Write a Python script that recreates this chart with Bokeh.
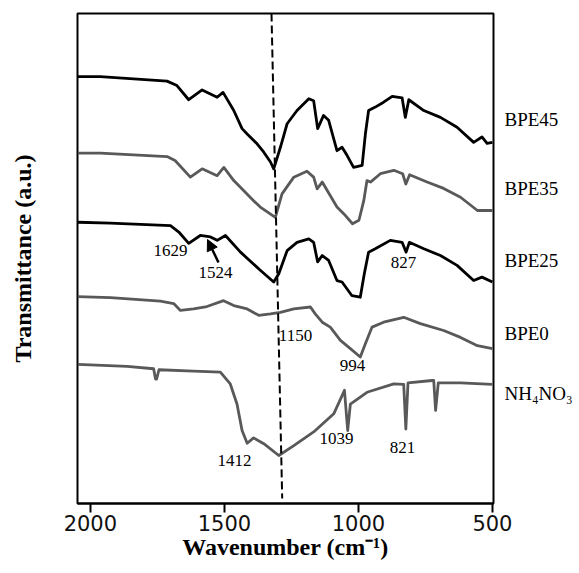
from bokeh.plotting import figure
from bokeh.models import Range1d, FixedTicker, Label, Arrow, NormalHead, LinearAxis
from bokeh.embed import file_html
from bokeh.resources import INLINE

# ---------------- data (wavenumber cm-1, transmittance a.u. with offsets) ----------------
wn_bpe45 = [2047, 1963, 1714, 1677, 1633, 1583, 1527, 1505, 1465, 1434, 1415, 1378, 1353, 1328,
            1316, 1291, 1266, 1229, 1185, 1167, 1152, 1130, 1111, 1080, 1061, 1042, 1018, 986,
            974, 962, 937, 906, 874, 837, 825, 812, 756, 694, 632, 570, 539, 520, 500]
t_bpe45 = [87.1, 87.1, 86.2, 85.3, 82.4, 84.4, 82.9, 83.9, 80.2, 76.5, 75.4, 73.4, 71.7, 69.7,
           68.3, 72.7, 77.5, 80.2, 82.6, 82.2, 76.5, 79.2, 78.2, 72.0, 72.7, 71.0, 68.6, 69.0,
           75.4, 80.2, 80.9, 81.9, 83.1, 82.8, 78.8, 82.4, 80.2, 78.8, 76.8, 73.7, 74.8, 73.5, 73.7]

wn_bpe35 = [2047, 1963, 1714, 1684, 1627, 1583, 1527, 1502, 1465, 1391, 1366, 1310, 1285, 1241,
            1192, 1167, 1154, 1135, 1080, 1054, 1022, 998, 980, 968, 955, 918, 868, 835, 823,
            809, 744, 682, 619, 556, 500]
t_bpe35 = [71.5, 71.5, 70.8, 70.0, 66.6, 68.3, 66.9, 68.6, 65.9, 61.8, 60.5, 58.4, 63.2, 66.6,
           67.8, 66.6, 64.2, 65.6, 60.5, 59.1, 57.1, 57.8, 61.8, 65.9, 65.6, 67.3, 68.0, 67.3, 65.2,
           67.1, 65.6, 64.3, 62.5, 59.8, 59.8]

wn_bpe25 = [2047, 1925, 1701, 1670, 1633, 1590, 1552, 1527, 1496, 1440, 1366, 1316, 1297, 1266,
            1229, 1185, 1167, 1152, 1135, 1111, 1080, 1061, 1024, 993, 978, 962, 937, 881, 837,
            822, 810, 756, 694, 632, 570, 539, 500]
t_bpe25 = [57.4, 57.2, 56.7, 55.4, 53.1, 54.7, 54.4, 53.7, 54.7, 51.3, 47.6, 45.2, 46.9, 51.6,
           53.3, 54.0, 53.3, 49.3, 50.6, 49.6, 45.5, 45.2, 42.4, 42.1, 46.9, 51.3, 52.0, 53.7, 53.3,
           51.3, 53.3, 52.0, 50.6, 48.6, 45.5, 46.2, 45.2]

wn_bpe0 = [2047, 1925, 1739, 1689, 1664, 1615, 1565, 1503, 1465, 1415, 1372, 1328, 1291, 1241,
           1179, 1161, 1135, 1105, 1067, 1030, 993, 974, 949, 906, 831, 769, 682, 619, 556, 500]
t_bpe0 = [42.2, 42.0, 41.3, 40.8, 39.4, 39.7, 40.2, 41.4, 40.4, 39.7, 38.4, 38.7, 39.0, 39.7,
          40.1, 38.7, 37.0, 36.0, 33.3, 31.6, 29.9, 32.6, 36.0, 37.0, 38.0, 36.7, 35.3, 33.9, 32.2, 31.6]

wn_nh4no3 = [2047, 1863, 1764, 1757, 1753, 1744, 1615, 1515, 1478, 1453, 1434, 1415, 1391, 1353,
             1297, 1241, 1167, 1092, 1052, 1040, 1030, 968, 868, 831, 823, 815, 725, 719, 712,
             702, 619, 500]
t_nh4no3 = [28.4, 28.0, 27.5, 25.4, 25.4, 27.3, 27.0, 26.8, 24.4, 20.3, 14.9, 12.3, 13.4, 12.2,
            9.8, 11.8, 14.6, 18.3, 23.1, 14.9, 20.3, 22.7, 24.4, 24.3, 15.2, 24.6, 25.1, 25.1, 19.0,
            24.6, 24.6, 24.3]

series_names = ["BPE45", "BPE35", "BPE25", "BPE0", "NH\u2084NO\u2083"]
series_label_y = [78.4, 64.3, 49.6, 34.7, 22.4]
peak_labels = ["1629", "1524", "827", "1150", "994", "1412", "1039", "821"]
x_ticks = [2000, 1500, 1000, 500]

# ---------------- layout helpers (page pixel -> data, for text placement only) ----------------
X0, X1 = 2048.0, 496.0
FL, FR, FT, FB = 77, 493, 13, 503


def wx(px):
    return X0 + (px - FL) / (FR - FL) * (X1 - X0)


def wy(py):
    return 100.0 * (FB - py) / (FB - FT)


SERIF = "Liberation Serif"

p = figure(width=579, height=573, output_backend="svg", toolbar_location=None,
           x_range=Range1d(X0, X1), y_range=Range1d(0, 100),
           min_border_left=FL, min_border_right=579 - FR, min_border_top=FT,
           min_border_bottom=573 - FB)
p.background_fill_color = "white"
p.border_fill_color = "white"
p.outline_line_color = "black"
p.outline_line_width = 2
p.xgrid.visible = False
p.ygrid.visible = False

# bottom axis
xa = p.xaxis[0]
xa.ticker = FixedTicker(ticks=x_ticks)
xa.major_tick_out = 9
xa.major_tick_in = 0
xa.minor_tick_line_color = None
xa.major_tick_line_width = 2
xa.axis_line_width = 2
xa.major_label_standoff = 2
xa.major_label_text_font = "DejaVu Sans"
xa.major_label_text_font_size = "21px"
xa.major_label_text_color = "#111111"
xa.axis_label = "Wavenumber (cm\u207b\u00b9)"
xa.axis_label_text_font = SERIF
xa.axis_label_text_font_size = "24px"
xa.axis_label_text_font_style = "bold"
xa.axis_label_text_color = "black"
xa.axis_label_standoff = 0

# left axis: title only
ya = p.yaxis[0]
ya.ticker = FixedTicker(ticks=[])
ya.axis_line_color = None
ya.major_tick_line_color = None
ya.minor_tick_line_color = None
ya.major_label_standoff = 0
ya.axis_label = "Transmittance (a.u.)"
ya.axis_label_text_font = SERIF
ya.axis_label_text_font_size = "24px"
ya.axis_label_text_font_style = "bold"
ya.axis_label_text_color = "black"
ya.axis_label_standoff = 42

# right axis used for the series names
ra = LinearAxis(ticker=FixedTicker(ticks=series_label_y),
                major_label_overrides={v: n for v, n in zip(series_label_y, series_names)})
ra.axis_line_color = None
ra.major_tick_line_color = None
ra.minor_tick_line_color = None
ra.major_tick_out = 0
ra.major_tick_in = 0
ra.major_label_standoff = 11
ra.major_label_text_font = SERIF
ra.major_label_text_font_size = "19px"
ra.major_label_text_color = "black"
p.add_layout(ra, "right")

BLACK = "#000000"
GRAY = "#595959"
curves = [(wn_bpe45, t_bpe45, BLACK), (wn_bpe35, t_bpe35, GRAY), (wn_bpe25, t_bpe25, BLACK),
          (wn_bpe0, t_bpe0, GRAY), (wn_nh4no3, t_nh4no3, GRAY)]
for xs, ys, c in curves:
    p.line(xs, ys, line_color=c, line_width=2.8, line_join="round")

# dashed guide line
p.line([wx(271), wx(281.7)], [100, wy(498)], line_color="black", line_width=2, line_dash="8 4")

# peak annotations
peak_pos = [(170, 250), (215, 272), (403, 262), (295, 335), (352, 365), (234, 460), (336, 438), (402, 447)]
for txt, (px, py) in zip(peak_labels, peak_pos):
    p.add_layout(Label(x=wx(px), y=wy(py), text=txt, text_font=SERIF, text_font_size="17px",
                       text_baseline="middle", text_align="center", text_color="black"))

# arrow to 1524 band
p.add_layout(Arrow(x_start=wx(218), y_start=wy(262), x_end=wx(207), y_end=wy(239),
                   line_width=2.5, line_color="black",
                   end=NormalHead(size=11, fill_color="black", line_color="black")))

open("out.html", "w").write(file_html(p, INLINE))
